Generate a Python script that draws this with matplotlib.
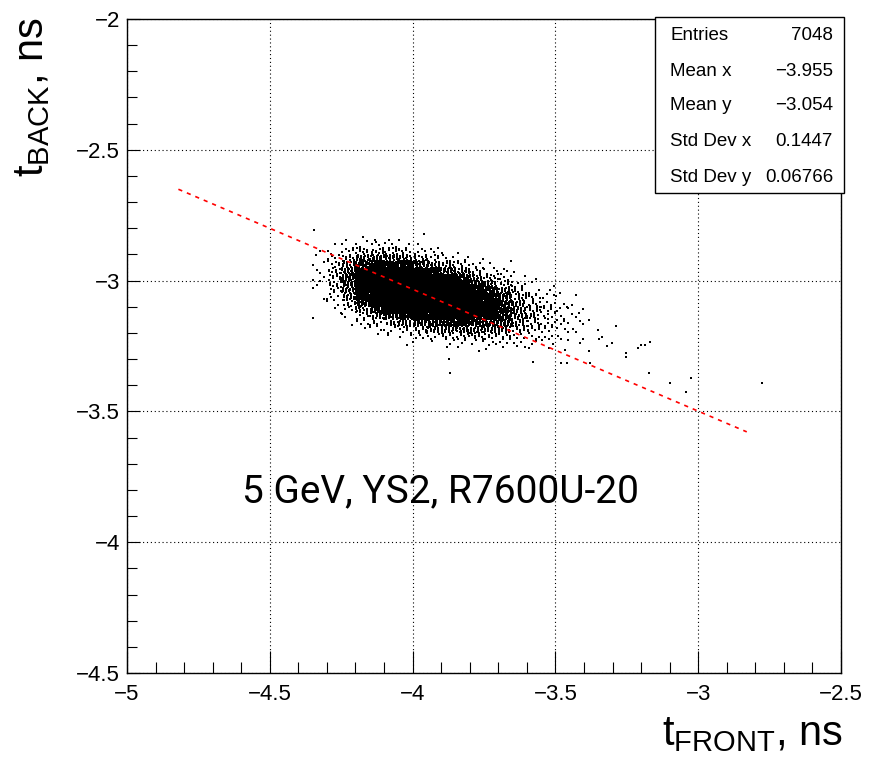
import numpy as np
import matplotlib
matplotlib.use('Agg')
from matplotlib import pyplot as plt
from matplotlib.patches import Rectangle
from matplotlib.ticker import MultipleLocator, FuncFormatter

plt.rcParams['font.family'] = ['Liberation Sans', 'DejaVu Sans']
plt.rcParams['mathtext.fontset'] = 'custom'
plt.rcParams['mathtext.rm'] = 'Liberation Sans'
plt.rcParams['mathtext.it'] = 'Liberation Sans:italic'
plt.rcParams['mathtext.bf'] = 'Liberation Sans:bold'

# t_FRONT vs t_BACK, hits binned in 0.05 x 0.025 ns cells
# hits[i][j]: column i starts at x_lo[i], row j starts at y_hi[j] (going down)
x_lo = np.linspace(-4.40, -3.45, 20)
y_hi = np.linspace(-2.80, -3.275, 20)
bin_w, bin_h = 0.05, 0.025
hits = [
    [0, 0, 0, 0, 0, 0, 0, 0, 0, 0, 0, 0, 0, 0, 0, 0, 0, 0, 0, 0],
    [0, 0, 0, 1, 1, 2, 2, 2, 2, 1, 1, 0, 0, 0, 0, 0, 0, 0, 0, 0],
    [0, 0, 1, 2, 4, 6, 8, 8, 8, 6, 4, 2, 1, 0, 0, 0, 0, 0, 0, 0],
    [0, 1, 2, 4, 9, 15, 21, 25, 24, 20, 14, 8, 4, 2, 1, 0, 0, 0, 0, 0],
    [0, 1, 3, 9, 18, 32, 47, 60, 63, 56, 41, 26, 14, 6, 3, 1, 0, 0, 0, 0],
    [0, 1, 4, 10, 21, 41, 66, 88, 97, 95, 76, 50, 28, 14, 6, 2, 1, 0, 0, 0],
    [0, 1, 3, 8, 20, 41, 71, 102, 124, 120, 107, 77, 47, 24, 10, 4, 1, 0, 0, 0],
    [0, 1, 2, 6, 16, 36, 66, 105, 139, 155, 139, 104, 66, 36, 16, 6, 2, 1, 0, 0],
    [0, 0, 1, 4, 11, 27, 53, 90, 126, 153, 149, 119, 80, 47, 23, 9, 3, 1, 0, 0],
    [0, 0, 1, 2, 7, 18, 38, 68, 105, 134, 144, 125, 91, 55, 29, 13, 4, 1, 0, 0],
    [0, 0, 0, 1, 4, 11, 25, 48, 81, 111, 126, 118, 88, 59, 33, 15, 7, 2, 1, 0],
    [0, 0, 0, 1, 2, 6, 15, 31, 53, 76, 92, 94, 80, 58, 35, 18, 8, 2, 1, 0],
    [0, 0, 0, 0, 1, 3, 8, 17, 31, 48, 63, 68, 63, 48, 31, 17, 8, 3, 1, 0],
    [0, 0, 0, 0, 0, 1, 3, 9, 18, 31, 42, 49, 48, 40, 27, 16, 8, 3, 1, 0],
    [0, 0, 0, 0, 0, 1, 2, 5, 9, 17, 25, 32, 35, 30, 22, 14, 7, 3, 1, 0],
    [0, 0, 0, 0, 0, 0, 1, 1, 4, 7, 11, 15, 16, 16, 12, 9, 4, 3, 1, 0],
    [0, 0, 0, 0, 0, 0, 0, 1, 1, 3, 6, 8, 10, 10, 8, 6, 4, 2, 1, 0],
    [0, 0, 0, 0, 0, 0, 0, 0, 1, 1, 3, 4, 5, 6, 5, 4, 3, 2, 1, 0],
    [0, 0, 0, 0, 0, 0, 0, 0, 0, 1, 1, 2, 3, 3, 3, 3, 2, 1, 1, 0],
    [0, 0, 0, 0, 0, 0, 0, 0, 0, 0, 1, 1, 2, 2, 2, 2, 1, 1, 0, 0],
]

# isolated hits outside the binned region
stray_x = [-4.346, -4.350, -3.960, -3.870, -3.874, -3.580, -3.479, -3.460, -3.380,
           -3.381, -3.381, -3.350, -3.336, -3.346, -3.287, -3.301, -3.320, -3.252,
           -3.252, -3.210, -3.199, -3.185, -3.168, -3.171, -3.098, -3.024, -3.042,
           -2.776]
stray_y = [-2.805, -3.142, -2.820, -3.352, -3.298, -3.312, -3.314, -3.314, -3.314,
           -3.268, -3.150, -3.188, -3.215, -3.222, -3.172, -3.238, -3.250, -3.276,
           -3.291, -3.257, -3.245, -3.245, -3.234, -3.352, -3.391, -3.372, -3.425,
           -3.391]

# linear fit
fit_slope, fit_icpt = -0.466, -4.897
fit_x0, fit_x1 = -4.82, -2.83

stat_names = ['Entries', 'Mean x', 'Mean y', 'Std Dev x', 'Std Dev y']
stat_vals = ['7048', '\u22123.955', '\u22123.054', '0.1447', '0.06766']

# spread each cell's hits over the cell (R2 low-discrepancy sequence)
g = 1.32471795724474602596
a1, a2 = 1 / g, 1 / g ** 2
px, py = [], []
k = 0
for i, col in enumerate(hits):
    for j, n in enumerate(col):
        if n == 0:
            continue
        idx = np.arange(k, k + n)
        k += n
        px.append(x_lo[i] + bin_w * ((0.5 + a1 * idx) % 1))
        py.append(y_hi[j] - bin_h * ((0.5 + a2 * idx) % 1))
px = np.concatenate(px + [np.array(stray_x)])
py = np.concatenate(py + [np.array(stray_y)])

fig = plt.figure(figsize=(8.74, 7.68), dpi=100)
ax = fig.add_axes([127 / 874, 95 / 768, 714 / 874, 654 / 768])

ax.plot(px, py, 's', ms=1.45, mew=0, color='black', zorder=2)

fx = np.linspace(fit_x0, fit_x1, 2)
ax.plot(fx, fit_slope * fx + fit_icpt, color='red', lw=1.2,
        linestyle=(0, (2.5, 3)), zorder=3)

ax.set_xlim(-5, -2.5)
ax.set_ylim(-4.5, -2)
ax.xaxis.set_major_locator(MultipleLocator(0.5))
ax.xaxis.set_minor_locator(MultipleLocator(0.1))
ax.yaxis.set_major_locator(MultipleLocator(0.5))
ax.yaxis.set_minor_locator(MultipleLocator(0.1))
fmt = FuncFormatter(lambda v, _: f'{v:g}'.replace('-', '\u2212'))
ax.xaxis.set_major_formatter(fmt)
ax.yaxis.set_major_formatter(fmt)
ax.tick_params(which='both', direction='in', top=False, right=False,
               labelsize=16, width=0.8, colors='black')
ax.tick_params(axis='x', which='major', length=16, pad=8)
ax.tick_params(axis='x', which='minor', length=8)
ax.tick_params(axis='y', which='major', length=9, pad=5)
ax.tick_params(axis='y', which='minor', length=7)
ax.grid(True, which='major', color='black', linestyle=(0, (1, 2.5)), linewidth=0.8)
for s in ax.spines.values():
    s.set_linewidth(1.0)

ax.text(-4.598, -3.847, '5 GeV, YS2, R7600U-20', ha='left', va='baseline',
        fontsize=28, family=['Roboto', 'Liberation Sans'])

fig.text(843 / 874, 1 - 745 / 768, r'$\mathrm{t}_{\mathrm{FRONT}}$, ns',
         ha='right', va='baseline', fontsize=30)
fig.text(43 / 874, 1 - 17 / 768, r'$\mathrm{t}_{\mathrm{BACK}}$, ns',
         ha='right', va='baseline', fontsize=30, rotation=90, rotation_mode='anchor')

# statistics box
fig.add_artist(Rectangle((655 / 874, 1 - 193 / 768), 189 / 874, 176 / 768,
                         transform=fig.transFigure, fc='white', ec='black', lw=1.0))
for name, val, yc in zip(stat_names, stat_vals, [35, 71, 106, 142, 177]):
    fig.text(670 / 874, 1 - yc / 768, name, ha='left', va='center', fontsize=13.5)
    fig.text(833 / 874, 1 - yc / 768, val, ha='right', va='center', fontsize=13.5)

fig.savefig('out.png', dpi=100)
